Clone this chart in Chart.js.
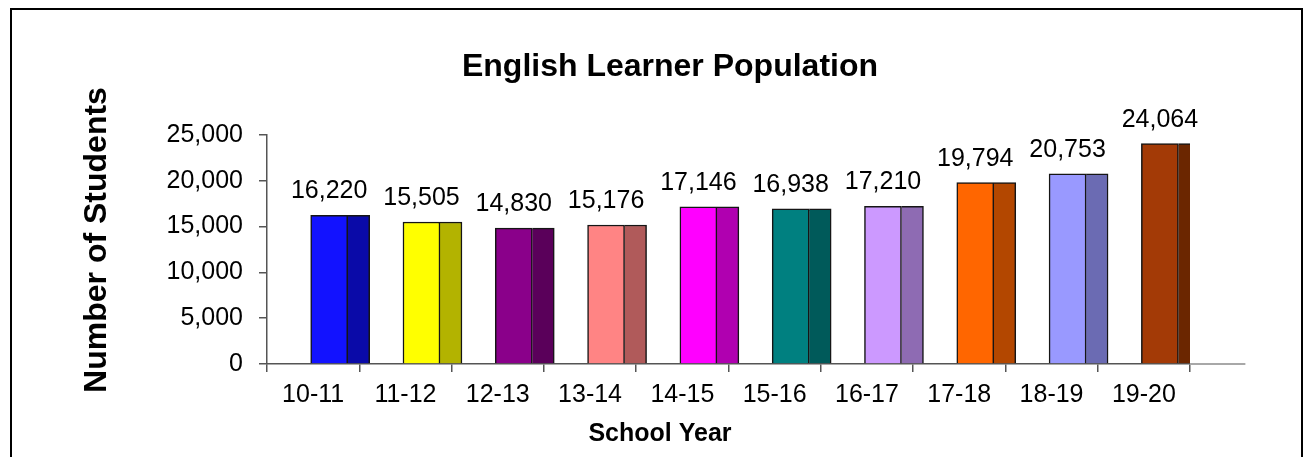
<!DOCTYPE html>
<html>
<head>
<meta charset="utf-8">
<script src="https://cdn.jsdelivr.net/npm/chart.js@4.4.1/dist/chart.umd.min.js"></script>
<style>
html, body { margin: 0; padding: 0; background: #fff; }
canvas { display: block; }
</style>
</head>
<body>
<canvas id="c" width="1306" height="457"></canvas>
<script>
// ---- data ----
const chartTitle = 'English Learner Population';
const yAxisTitle = 'Number of Students';
const xAxisTitle = 'School Year';
const schoolYears = ['10-11', '11-12', '12-13', '13-14', '14-15', '15-16', '16-17', '17-18', '18-19', '19-20'];
const students = [16220, 15505, 14830, 15176, 17146, 16938, 17210, 19794, 20753, 24064];
const yTickValues = [0, 5000, 10000, 15000, 20000, 25000];
const frontColors = ['#1212ff', '#ffff00', '#8a008a', '#ff8484', '#ff00ff', '#008080', '#cc99ff', '#ff6600', '#9999ff', '#a33a06'];
const sideColors  = ['#0a0aa8', '#b3b300', '#5a005a', '#b05a5a', '#b000b0', '#005a5a', '#8e6bb3', '#b34700', '#6b6bb3', '#6b2600'];

// ---- style ----
const FONT = '"Liberation Sans", Arial, Helvetica, sans-serif';
Chart.defaults.font.family = FONT;
Chart.defaults.color = '#000';
const AXIS = '#555';
const DEPTH_SHIFT = 0.374; // 3-D depth shift of the bars, in category widths

const points = students.map((v, i) => ({ x: i, y: v }));

const framePlugin = {
  id: 'frame',
  beforeDraw(chart) {
    const c = chart.ctx;
    c.save();
    c.fillStyle = '#fff';
    c.fillRect(0, 0, chart.width, chart.height);
    c.strokeStyle = '#000';
    c.lineWidth = 2;
    c.strokeRect(11, 9, 1291, 480);
    c.restore();
  }
};

const floorPlugin = {
  id: 'floor',
  afterDraw(chart) {
    const a = chart.chartArea;
    const c = chart.ctx;
    const cw = (a.right - a.left) / schoolYears.length;
    c.save();
    c.strokeStyle = '#a8a8a8';
    c.lineWidth = 2;
    c.beginPath();
    c.moveTo(a.right, a.bottom);
    c.lineTo(a.right + cw * 0.6, a.bottom);
    c.stroke();
    c.restore();
  }
};

const valueLabelPlugin = {
  id: 'valueLabels',
  afterDatasetsDraw(chart) {
    const c = chart.ctx;
    const meta = chart.getDatasetMeta(0);
    c.save();
    c.font = '25px ' + FONT;
    c.fillStyle = '#000';
    c.textAlign = 'center';
    c.textBaseline = 'alphabetic';
    meta.data.forEach((el, i) => {
      c.fillText(students[i].toLocaleString('en-US'), el.x, el.y - 17);
    });
    c.restore();
  }
};

const titlesPlugin = {
  id: 'titles',
  afterDraw(chart) {
    const c = chart.ctx;
    c.save();
    c.fillStyle = '#000';
    c.textAlign = 'center';
    c.textBaseline = 'alphabetic';
    c.font = 'bold 32px ' + FONT;
    c.fillText(chartTitle, 670, 76);
    c.font = 'bold 25px ' + FONT;
    c.fillText(xAxisTitle, 660, 441);
    c.translate(106, 240);
    c.rotate(-Math.PI / 2);
    c.font = 'bold 32px ' + FONT;
    c.fillText(yAxisTitle, 0, 0);
    c.restore();
  }
};

new Chart(document.getElementById('c'), {
  type: 'bar',
  data: {
    labels: schoolYears,
    datasets: [
      {
        label: 'front',
        data: points,
        xAxisID: 'xb',
        backgroundColor: frontColors,
        borderColor: '#151515',
        borderWidth: { left: 1.5, top: 1.5, right: 1.5, bottom: 0 },
        borderSkipped: false,
        barThickness: 37
      },
      {
        label: 'side',
        data: points,
        xAxisID: 'xb',
        backgroundColor: sideColors,
        borderColor: '#151515',
        borderWidth: { left: 0, top: 1.5, right: 1.5, bottom: 0 },
        borderSkipped: false,
        barThickness: 22
      }
    ]
  },
  options: {
    responsive: false,
    animation: false,
    devicePixelRatio: 1,
    layout: { padding: { left: 12, top: 135, right: 116, bottom: 0 } },
    plugins: {
      legend: { display: false },
      tooltip: { enabled: false },
      title: { display: false }
    },
    scales: {
      x: {
        type: 'category',
        offset: true,
        grid: { offset: true, drawOnChartArea: false, drawTicks: true, tickLength: 8, color: AXIS, lineWidth: 1.5 },
        border: { display: true, color: AXIS, width: 1.5 },
        ticks: { font: { size: 25 }, color: '#000', padding: 8, maxRotation: 0, autoSkip: false },
        afterFit(s) { s.height = 93; }
      },
      xb: {
        type: 'linear',
        axis: 'x',
        display: false,
        offset: false,
        min: -0.5 - DEPTH_SHIFT,
        max: schoolYears.length - 0.5 - DEPTH_SHIFT
      },
      y: {
        type: 'linear',
        min: 0,
        max: 25000,
        grid: { drawOnChartArea: false, drawTicks: true, tickLength: 8, color: AXIS, lineWidth: 1.5 },
        border: { display: true, color: AXIS, width: 1.5 },
        ticks: { font: { size: 25 }, color: '#000', padding: 16 },
        afterBuildTicks(s) { s.ticks = yTickValues.map(v => ({ value: v })); },
        afterFit(s) { s.width = 255; }
      }
    }
  },
  plugins: [framePlugin, floorPlugin, valueLabelPlugin, titlesPlugin]
});
</script>
</body>
</html>
